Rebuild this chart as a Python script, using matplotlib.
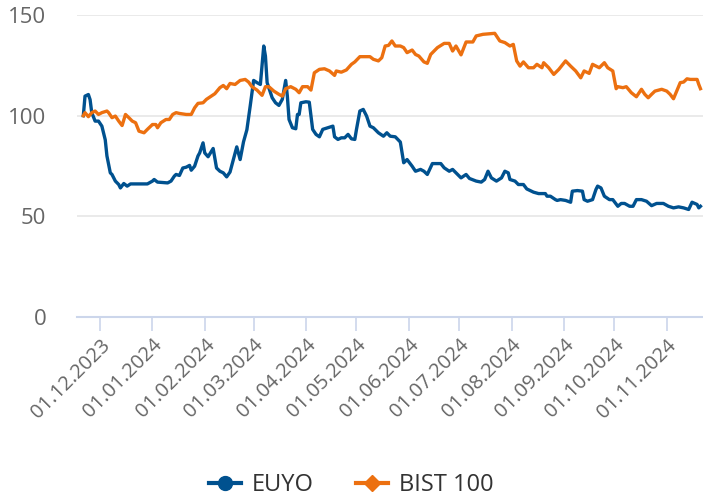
import matplotlib
matplotlib.use("Agg")
import matplotlib.pyplot as plt
import matplotlib.dates as mdates
from matplotlib.lines import Line2D
import pandas as pd

plt.rcParams['font.family'] = ['Open Sans', 'DejaVu Sans']

euyo_dates = ["2023-11-21","2023-11-22","2023-11-24","2023-11-25","2023-11-26","2023-11-28","2023-11-30",
"2023-12-02","2023-12-04","2023-12-05","2023-12-07","2023-12-08","2023-12-10","2023-12-12","2023-12-13",
"2023-12-15","2023-12-17","2023-12-19","2023-12-21","2023-12-29","2024-01-01","2024-01-02","2024-01-04",
"2024-01-10","2024-01-12","2024-01-14","2024-01-15","2024-01-17","2024-01-19","2024-01-21","2024-01-23",
"2024-01-24","2024-01-26","2024-01-28","2024-01-29","2024-01-31","2024-02-01","2024-02-03","2024-02-06",
"2024-02-08","2024-02-10","2024-02-12","2024-02-14","2024-02-16","2024-02-18","2024-02-20","2024-02-22",
"2024-02-24","2024-02-26","2024-02-28","2024-03-01","2024-03-03","2024-03-05","2024-03-07","2024-03-08",
"2024-03-09","2024-03-12","2024-03-14","2024-03-16","2024-03-18","2024-03-20","2024-03-21","2024-03-22",
"2024-03-24","2024-03-26","2024-03-27","2024-03-28","2024-03-29","2024-04-01","2024-04-03","2024-04-05",
"2024-04-07","2024-04-09","2024-04-11","2024-04-14","2024-04-17","2024-04-18","2024-04-20","2024-04-22",
"2024-04-24","2024-04-26","2024-04-28","2024-04-30","2024-05-01","2024-05-03","2024-05-05","2024-05-07",
"2024-05-09","2024-05-11","2024-05-14","2024-05-17","2024-05-19","2024-05-21","2024-05-24","2024-05-27",
"2024-05-29","2024-05-31","2024-06-03","2024-06-05","2024-06-08","2024-06-10","2024-06-12","2024-06-15",
"2024-06-20","2024-06-22","2024-06-25","2024-06-27","2024-06-29","2024-07-02","2024-07-05","2024-07-07",
"2024-07-11","2024-07-14","2024-07-16","2024-07-18","2024-07-20","2024-07-23","2024-07-26","2024-07-28",
"2024-07-30","2024-07-31","2024-08-03","2024-08-05","2024-08-08","2024-08-10","2024-08-14","2024-08-17",
"2024-08-21","2024-08-22","2024-08-24","2024-08-27","2024-08-28","2024-08-30","2024-09-02","2024-09-05",
"2024-09-06","2024-09-09","2024-09-12","2024-09-13","2024-09-15","2024-09-18","2024-09-20","2024-09-21",
"2024-09-23","2024-09-25","2024-09-28","2024-09-30","2024-10-03","2024-10-05","2024-10-07","2024-10-10",
"2024-10-12","2024-10-14","2024-10-17","2024-10-20","2024-10-23","2024-10-26","2024-10-30","2024-11-02",
"2024-11-05","2024-11-08","2024-11-11","2024-11-14","2024-11-16","2024-11-19","2024-11-20","2024-11-21"]
euyo_values = [100,109.7,110.5,108,101.5,97.3,97.3,
94.8,88,80,71.6,70.8,67.5,65.8,64.1,
66.3,65,66.1,66.1,66.1,67.5,68.3,67,
66.6,67.5,70,70.8,70.3,74,74.4,75.3,
72.9,74.9,80,81.5,86.5,81.5,79.6,83.7,
74,72.4,71.6,69.6,72,78.2,84.5,78.2,
87,93,105,117.5,116.4,115.5,134.6,129.6,
116.4,108.9,106.4,105.1,108.1,117.5,109.7,98.1,
94,93.5,100.6,100.6,106.4,106.9,106.7,93.2,
90.7,89.5,93.2,94,94.8,89.5,88.2,89,
89,90.7,88.5,88.2,93.2,102.3,103.1,99.8,
94.8,94,91.5,89.8,91.5,89.8,89.5,86.9,
76.6,78.2,74.9,72.4,73.3,72.4,70.8,76.2,
76.2,74.1,72.4,73.3,71.6,69.1,70.8,68.8,
67.5,67,68.3,72.4,69.1,67.5,69.1,72.4,
71.6,68.3,67.5,65.8,65.8,63.6,62,61.3,
61.3,60,60,58.3,57.9,58.3,57.9,57,
62.5,62.8,62.5,58.3,57.5,58.3,63.3,65,
64.1,60,58.3,58.3,55,56.4,56.4,55,
55,58.3,58.3,57.5,55.3,56.4,56.4,55,
54.2,54.7,54.2,53.4,57,55.9,54.2,55]

bist_dates = ["2023-11-21","2023-11-22","2023-11-24","2023-11-26","2023-11-28","2023-11-30","2023-12-02",
"2023-12-05","2023-12-06","2023-12-08","2023-12-10","2023-12-12","2023-12-14","2023-12-16","2023-12-18",
"2023-12-20","2023-12-22","2023-12-24","2023-12-27","2023-12-29","2024-01-01","2024-01-03","2024-01-04",
"2024-01-06","2024-01-09","2024-01-11","2024-01-13","2024-01-15","2024-01-17","2024-01-21","2024-01-24",
"2024-01-26","2024-01-28","2024-01-31","2024-02-02","2024-02-04","2024-02-07","2024-02-10","2024-02-12",
"2024-02-14","2024-02-16","2024-02-19","2024-02-22","2024-02-25","2024-02-27","2024-02-29","2024-03-03",
"2024-03-06","2024-03-08","2024-03-10","2024-03-13","2024-03-16","2024-03-18","2024-03-20","2024-03-23",
"2024-03-26","2024-03-28","2024-03-30","2024-04-02","2024-04-04","2024-04-06","2024-04-09","2024-04-12",
"2024-04-15","2024-04-18","2024-04-19","2024-04-22","2024-04-25","2024-04-28","2024-04-30","2024-05-03",
"2024-05-06","2024-05-09","2024-05-11","2024-05-14","2024-05-16","2024-05-18","2024-05-20","2024-05-22",
"2024-05-24","2024-05-27","2024-05-29","2024-05-31","2024-06-03","2024-06-05","2024-06-07","2024-06-10",
"2024-06-12","2024-06-14","2024-06-18","2024-06-22","2024-06-25","2024-06-27","2024-06-29","2024-07-02",
"2024-07-05","2024-07-07","2024-07-09","2024-07-11","2024-07-15","2024-07-19","2024-07-22","2024-07-25",
"2024-07-28","2024-07-31","2024-08-02","2024-08-04","2024-08-06","2024-08-08","2024-08-11","2024-08-14",
"2024-08-16","2024-08-19","2024-08-20","2024-08-23","2024-08-26","2024-08-29","2024-09-02","2024-09-05",
"2024-09-08","2024-09-11","2024-09-13","2024-09-16","2024-09-18","2024-09-22","2024-09-25","2024-09-27",
"2024-09-30","2024-10-02","2024-10-03","2024-10-06","2024-10-08","2024-10-11","2024-10-14","2024-10-17",
"2024-10-19","2024-10-21","2024-10-23","2024-10-25","2024-10-29","2024-11-01","2024-11-03","2024-11-05",
"2024-11-09","2024-11-11","2024-11-13","2024-11-15","2024-11-19","2024-11-20","2024-11-21"]
bist_values = [100,101.5,99.5,101.5,102.3,100.6,101.5,
102.3,101.5,99,99.8,97.3,95.1,100.6,99,
97.3,96.5,92.3,91.5,93.2,95.6,95.6,94,
96.5,98.1,98.1,100.6,101.5,101.1,100.6,100.6,
103.9,106.1,106.4,108.1,109.2,110.9,113.9,115,
113.4,116,115.5,117.5,118,116.7,114.4,112.7,
110.1,114.4,114.4,112.2,110.6,109.7,113.4,114.4,
113.1,111.4,114.4,114.4,112.7,121.3,123,123.3,
122.2,120,122.2,121.6,122.7,125.5,126.7,129.3,
129.3,129.3,128,127.2,128.8,134.6,134.9,137.1,
134.6,134.6,133.8,131.3,132.6,130.4,129.6,126.7,
126,130.4,133.8,135.9,135.9,132.1,134.6,130.2,
136.6,136.6,136.6,139.6,140.4,140.7,140.9,137.1,
136.3,134.6,135.4,127.2,124.6,126.7,123.8,123.8,
125.5,123.8,126.3,123.8,120.5,123,127.2,124.6,
122.2,118.8,122.2,121,125.5,123.8,126.3,123.8,
122.2,113.4,114.4,113.9,114.4,111.4,109.4,113.1,
110.6,108.9,110.6,112.2,113.1,112.2,110.6,108.4,
116.4,116.7,118.3,118,118,115.5,113.4]

tick_dates = ["2023-12-01","2024-01-01","2024-02-01","2024-03-01","2024-04-01","2024-05-01",
              "2024-06-01","2024-07-01","2024-08-01","2024-09-01","2024-10-01","2024-11-01"]
y_ticks = [0, 50, 100, 150]

c_euyo = "#00518f"
c_bist = "#ec7010"
axis_c = "#ccd6eb"

fig = plt.figure(figsize=(7.03, 4.99), dpi=100)
ax = fig.add_axes([77/703, 1-317/499, 626/703, 302/499])

ax.plot(pd.to_datetime(euyo_dates), euyo_values, color=c_euyo, lw=2.4, solid_joinstyle='round', zorder=3)
ax.plot(pd.to_datetime(bist_dates), bist_values, color=c_bist, lw=2.4, solid_joinstyle='round', zorder=3)

ax.set_ylim(0, 150)
ax.set_xlim(pd.Timestamp("2023-11-17 06:00"), pd.Timestamp("2024-11-22 12:00"))
ax.set_yticks(y_ticks)
ax.set_yticklabels([str(v) for v in y_ticks], fontsize=16, color="#666666")
ax.tick_params(axis='y', length=0, pad=22)
for v in y_ticks[1:]:
    ax.axhline(v, color="#e6e6e6", lw=1.2, zorder=1)

tks = pd.to_datetime(tick_dates)
ax.set_xticks(tks)
ax.set_xticklabels([d.strftime("%d.%m.%Y") for d in tks], rotation=45, ha='right',
                   rotation_mode='anchor', fontsize=14.5, color="#666666")
ax.tick_params(axis='x', length=10, width=1.2, color=axis_c, pad=3)

for s in ['top', 'right', 'left']:
    ax.spines[s].set_visible(False)
ax.spines['bottom'].set_color(axis_c)
ax.spines['bottom'].set_linewidth(1.5)

handles = [Line2D([0], [0], color=c_euyo, lw=3, marker='o', markersize=10),
           Line2D([0], [0], color=c_bist, lw=3, marker='D', markersize=8)]
fig.legend(handles, ["EUYO", "BIST 100"], loc='center', bbox_to_anchor=(0.5, 1-485/499),
           ncol=2, frameon=False, fontsize=17, handlelength=1.35, columnspacing=1.8,
           labelcolor="#333333", handletextpad=0.45)

fig.savefig("out.png", dpi=100)
